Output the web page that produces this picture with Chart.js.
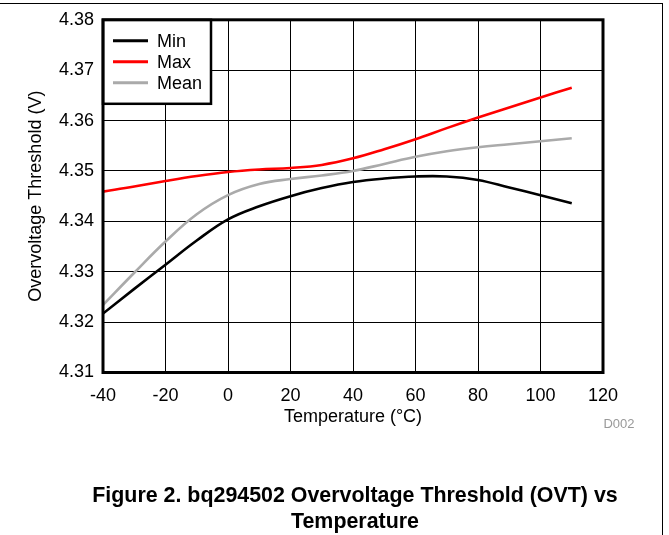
<!DOCTYPE html>
<html>
<head>
<meta charset="utf-8">
<script src="https://cdn.jsdelivr.net/npm/chart.js@4.4.1/dist/chart.umd.min.js"></script>
<style>
  html, body { margin: 0; padding: 0; background: #fff; }
  body { width: 669px; height: 535px; position: relative; overflow: hidden;
         font-family: Arial, 'Liberation Sans', sans-serif; }
  #frame { position: absolute; left: -2px; top: 3px; width: 665px; height: 540px;
           border-top: 1px solid #000; border-right: 1px solid #000; box-sizing: border-box; }
  #chart { position: absolute; left: 0; top: 0; }
  #code { position: absolute; left: 590px; top: 416px; width: 58px; text-align: center;
          font-size: 13px; line-height: 16px; color: #999; }
  #caption { position: absolute; left: 55px; top: 482px; width: 600px; text-align: center;
             font-size: 21.4px; font-weight: bold; line-height: 26px; color: #000; }
</style>
</head>
<body>
<div id="frame"></div>
<canvas id="chart" width="669" height="535"></canvas>
<div id="code">D002</div>
<div id="caption">Figure 2. bq294502 Overvoltage Threshold (OVT) vs<br>Temperature</div>

<script>
// ── Data ───────────────────────────────────────────────────────────────
const temps    = [-40, -30, -20, -10, 0, 10, 20, 30, 40, 50, 60, 70, 80, 90, 100, 110];
const minVals  = [4.3217, 4.3266, 4.3314, 4.3362, 4.3404, 4.3430, 4.3450, 4.3466,
                  4.3478, 4.3485, 4.3489, 4.3489, 4.3482, 4.3467, 4.3452, 4.3436];
const maxVals  = [4.3459, 4.3469, 4.3480, 4.3490, 4.3498, 4.3503, 4.3506, 4.3512,
                  4.3525, 4.3543, 4.3563, 4.3585, 4.3606, 4.3626, 4.3646, 4.3665];
const meanVals = [4.3234, 4.3298, 4.3360, 4.3414, 4.3452, 4.3474, 4.3484, 4.3491,
                  4.3500, 4.3514, 4.3528, 4.3539, 4.3547, 4.3553, 4.3559, 4.3565];
const seriesNames = ['Min', 'Max', 'Mean'];
const xTicks = [-40, -20, 0, 20, 40, 60, 80, 100, 120];
const yTicks = [4.31, 4.32, 4.33, 4.34, 4.35, 4.36, 4.37, 4.38];

// ── Style ──────────────────────────────────────────────────────────────
const FONT   = "Arial, 'Liberation Sans', sans-serif";
const COLORS = ['#000000', '#ff0000', '#aaaaaa'];

const toPoints = vals => vals.map((v, i) => ({ x: temps[i], y: v }));

// ── Plugins ────────────────────────────────────────────────────────────
// boxed legend in the top-left corner of the plot, plus the heavy plot frame
const boxPlugin = {
  id: 'boxLegend',
  afterDatasetsDraw(chart) {
    const { ctx, chartArea: a } = chart;
    ctx.save();

    // legend
    const w = 108, h = 84, rowH = 21;
    ctx.fillStyle = '#fff';
    ctx.fillRect(a.left, a.top, w, h);
    ctx.strokeStyle = '#000';
    ctx.lineWidth = 2.5;
    ctx.strokeRect(a.left, a.top, w, h);

    ctx.font = '18px ' + FONT;
    ctx.textBaseline = 'middle';
    ctx.textAlign = 'left';
    chart.data.datasets.forEach((ds, i) => {
      const y = a.top + rowH * (i + 1);
      ctx.strokeStyle = ds.borderColor;
      ctx.lineWidth = 3;
      ctx.beginPath();
      ctx.moveTo(a.left + 10, y);
      ctx.lineTo(a.left + 45, y);
      ctx.stroke();
      ctx.fillStyle = '#000';
      ctx.fillText(ds.label, a.left + 54, y + 1);
    });

    // plot frame
    ctx.strokeStyle = '#000';
    ctx.lineWidth = 3;
    ctx.strokeRect(a.left, a.top, a.right - a.left, a.bottom - a.top);
    ctx.restore();
  }
};

// ── Chart ──────────────────────────────────────────────────────────────
const datasets = [minVals, maxVals, meanVals].map((vals, i) => ({
  label: seriesNames[i],
  data: toPoints(vals),
  borderColor: COLORS[i],
  backgroundColor: COLORS[i],
  borderWidth: 2.6,
  pointRadius: 0,
  tension: 0.4,
  fill: false
}));

new Chart(document.getElementById('chart').getContext('2d'), {
  type: 'line',
  data: { datasets },
  options: {
    responsive: false,
    animation: false,
    layout: { padding: { left: 0, top: 19, right: 66, bottom: 107.5 } },
    plugins: {
      legend: { display: false },
      tooltip: { enabled: false }
    },
    scales: {
      x: {
        type: 'linear',
        min: xTicks[0],
        max: xTicks[xTicks.length - 1],
        afterBuildTicks: s => { s.ticks = xTicks.map(v => ({ value: v })); },
        afterFit: s => { s.height = 55; },
        grid: { color: '#000', lineWidth: 1, drawTicks: false },
        border: { display: false },
        ticks: { color: '#000', padding: 13, font: { family: FONT, size: 18 } },
        title: {
          display: true, text: 'Temperature (°C)', color: '#000',
          font: { family: FONT, size: 18 }, padding: { top: 0, bottom: 0 }
        }
      },
      y: {
        min: yTicks[0],
        max: yTicks[yTicks.length - 1],
        afterBuildTicks: s => { s.ticks = yTicks.map(v => ({ value: v })); },
        afterFit: s => { s.width = 103; },
        grid: { color: '#000', lineWidth: 1, drawTicks: false },
        border: { display: false },
        ticks: {
          color: '#000', padding: 9, font: { family: FONT, size: 18 },
          callback: v => v.toFixed(2)
        },
        title: {
          display: true, text: 'Overvoltage Threshold (V)', color: '#000',
          font: { family: FONT, size: 18 }, padding: { top: 25, bottom: 0 }
        }
      }
    }
  },
  plugins: [boxPlugin]
});
</script>
</body>
</html>
